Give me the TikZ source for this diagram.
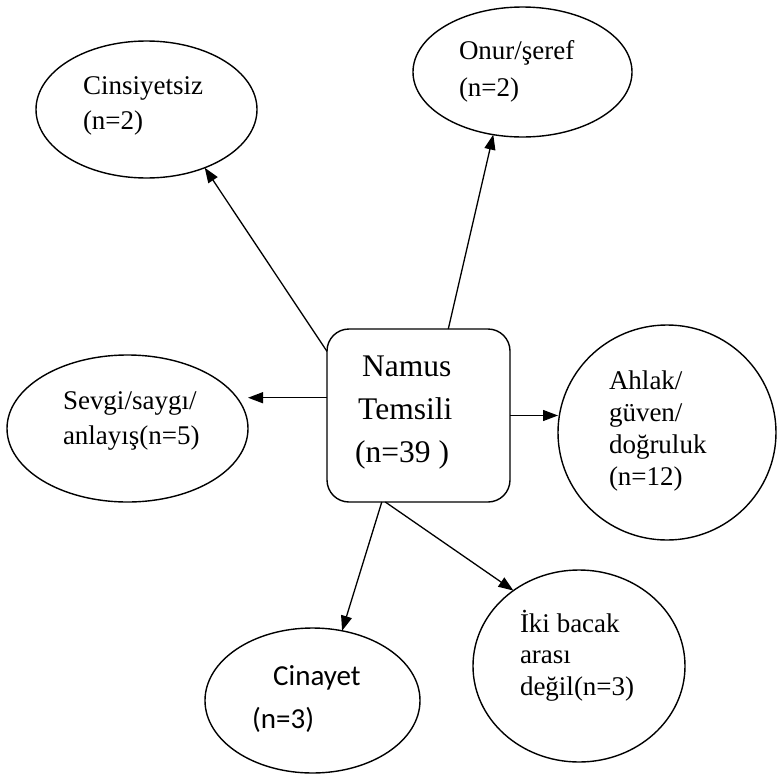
\documentclass[tikz,border=0pt]{standalone}
\usepackage{fontspec}
\setmainfont{Liberation Serif}
\newfontfamily\calibrifont{Carlito}
\usetikzlibrary{shapes.geometric,arrows.meta,calc}

% stacked left-aligned lines; baseline of the box is the first line
\newcommand\linestack[2]{\vtop{\baselineskip=#1\relax #2}}

\begin{document}
\begin{tikzpicture}[x=1pt,y=-1pt,
  oval/.style={draw,ellipse,line width=1.4pt,inner sep=0pt,outer sep=0pt},
  centerbox/.style={draw,rectangle,rounded corners=22pt,line width=1.4pt,
    inner sep=0pt,outer sep=0pt,minimum width=183pt,minimum height=173pt},
  lbl/.style={anchor=base west,inner sep=0pt,outer sep=0pt,
    font=\fontsize{27}{32}\selectfont},
  arr/.style={line width=1.3pt,-{Triangle[length=15pt,width=11pt]}}]

\useasboundingbox (0,0) rectangle (777,774);

% central node
\node[centerbox] (box) at (418.5,415.5) {};
\node[anchor=base west,inner sep=0pt,font=\fontsize{31.5}{43}\selectfont] (boxtext) at (355,376)
  {\linestack{43pt}{\hbox{\hspace{7pt}Namus}\hbox{\hspace{3pt}Temsili}\hbox{(n=39 )}}};

% surrounding categories
\node[oval,minimum width=221pt,minimum height=137pt] (cins) at (146.5,109.5) {};
\node[lbl] (cinstext) at (83,94) {\linestack{35pt}{\hbox{Cinsiyetsiz}\hbox{(n=2)}}};

\node[oval,minimum width=219pt,minimum height=130pt] (onur) at (522.5,72) {};
\node[lbl] (onurtext) at (459,59) {\linestack{37pt}{\hbox{Onur/şeref}\hbox{(n=2)}}};

\node[oval,minimum width=241pt,minimum height=147pt] (sevgi) at (127.5,428.5) {};
\node[lbl] (sevgitext) at (63,409) {\linestack{35pt}{\hbox{Sevgi/saygı/}\hbox{anlayış(n=5)}}};

\node[oval,minimum width=218pt,minimum height=215pt] (ahlak) at (667,432.5) {};
\node[lbl] (ahlaktext) at (609,389)
  {\linestack{32pt}{\hbox{Ahlak/}\hbox{güven/}\hbox{doğruluk}\hbox{(n=12)}}};

\node[oval,minimum width=212pt,minimum height=192pt] (iki) at (579,666) {};
\node[lbl] (ikitext) at (520,632)
  {\linestack{31.5pt}{\hbox{İki bacak}\hbox{arası}\hbox{değil(n=3)}}};

\node[oval,minimum width=215pt,minimum height=145pt] (cinayet) at (312.5,700.5) {};
\node[anchor=base west,inner sep=0pt,font=\calibrifont\fontsize{29}{43}\selectfont] (cinayettext) at (252,685)
  {\linestack{43pt}{\hbox{\hspace{21pt}Cinayet}\hbox{(n=3)}}};

% connectors
\draw[arr] (box.145.7) -- (cins.315.5);
\draw[arr] (box.71.2) -- (onur.245.9);
\draw[arr] (box.169.8) -- (box.169.8 -| sevgi.east);
\draw[arr] (box.east) -- (box.east -| ahlak.west);
\draw[arr] (box.247) -- (cinayet.67.5);
\draw[arr] (box.249) -- (iki.131.5);
\end{tikzpicture}
\end{document}
